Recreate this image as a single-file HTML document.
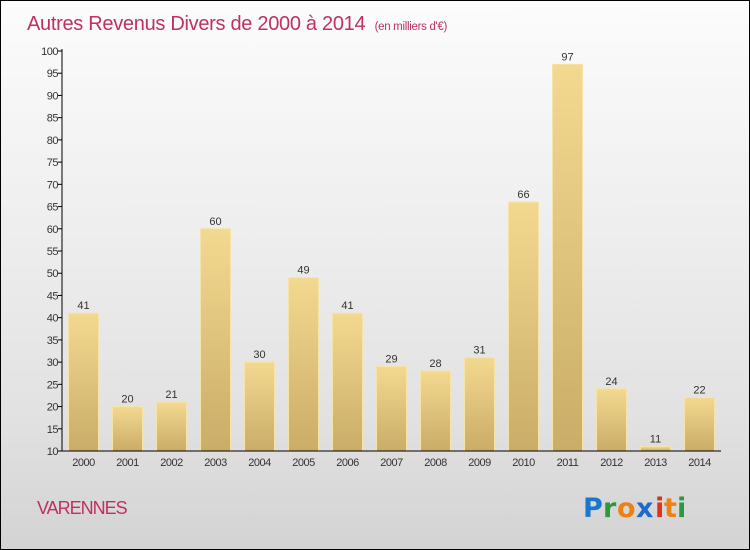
<!DOCTYPE html>
<html><head><meta charset="utf-8"><style>
body{margin:0}
#c{position:relative;width:748px;height:548px;border:1px solid #000;background:linear-gradient(#fcfcfc,#f2f2f2 30%,#e2e2e2 75%,#d3d3d3);font-family:"Liberation Sans",sans-serif;overflow:hidden}
</style></head><body>
<div id="c">
<svg width="748" height="548">
<defs><linearGradient id="bg" x1="0" y1="0" x2="0" y2="1"><stop offset="0" stop-color="#f3d990"/><stop offset="1" stop-color="#c9ad68"/></linearGradient></defs>
<text x="26" y="29" font-size="20" fill="#c03060" letter-spacing="-0.3">Autres Revenus Divers de 2000 à 2014 <tspan font-size="11.5" dx="4">(en milliers d'€)</tspan></text>
<g id="g"></g>
<text x="36" y="513" font-size="18" fill="#c03060" letter-spacing="-1">VARENNES</text>
<g font-size="27" font-weight="bold" font-family="'DejaVu Sans',sans-serif">
<text x="582" y="516" fill="#1a78cc">P</text><text x="602" y="516" fill="#2a9a3a">r</text><text x="616" y="516" fill="#f08010">o</text><text x="635" y="516" fill="#1a6ad0">x</text><text x="654" y="516" fill="#e03020">i</text><text x="663" y="516" fill="#f08010">t</text><text x="676" y="516" fill="#2a9a3a">i</text></g>
</svg></div>
<script>
const years=["2000","2001","2002","2003","2004","2005","2006","2007","2008","2009","2010","2011","2012","2013","2014"];
const values=[41,20,21,60,30,49,41,29,28,31,66,97,24,11,22];
const yTicks=[10,15,20,25,30,35,40,45,50,55,60,65,70,75,80,85,90,95,100];
const NS="http://www.w3.org/2000/svg",g=document.getElementById('g');
const y=v=>450-(v-10)*400/90, x=i=>82.5+i*44;
function el(t,a){const e=document.createElementNS(NS,t);for(const k in a)e.setAttribute(k,a[k]);g.appendChild(e);return e;}
yTicks.forEach(t=>{
 const l=el('line',{x1:57,x2:61,y1:y(t),y2:y(t),stroke:'#000'});
 
 
 const tx=el('text',{x:57,y:y(t)+4,'text-anchor':'end','font-size':11,fill:'#333','letter-spacing':'-0.5'});
 tx.textContent=t;
 
 
});
values.forEach((v,i)=>{
 const b=el('rect',{x:x(i)-15,y:y(v),width:30,height:450-y(v),fill:'url(#bg)',stroke:'#f5e3a8','stroke-width':1});
 
 
 const lb=el('text',{x:x(i),y:y(v)-4,'text-anchor':'middle','font-size':11,fill:'#333'});
 lb.textContent=v;
 
 
 const xl=el('text',{x:x(i),y:465,'text-anchor':'middle','font-size':11,fill:'#333','letter-spacing':'-0.5'});
 xl.textContent=years[i];
 
 
});
const ya=el('line',{x1:61,x2:61,y1:48,y2:450,stroke:'#000'});


const xa=el('line',{x1:61,x2:720,y1:450,y2:450,stroke:'#000'});


</script>
</body></html>
